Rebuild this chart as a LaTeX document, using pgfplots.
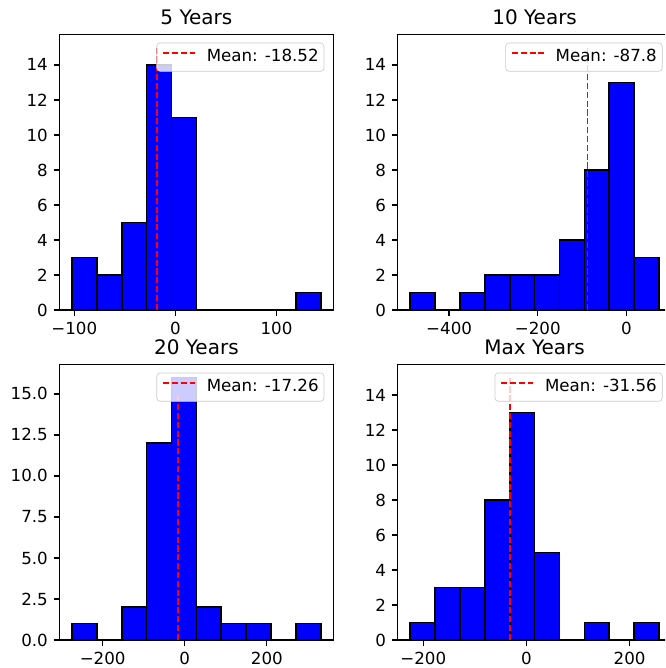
\documentclass[border=0pt]{standalone}
\usepackage{fontspec}
\setmainfont{DejaVu Sans}
\usepackage{pgfplots}
\pgfplotsset{compat=1.18}
\pgfplotsset{
  histax/.style={
    scale only axis,
    width=164.28pt, height=165.42pt,
    anchor=south west,
    axis line style={line width=0.8pt, black},
    tick align=outside,
    xtick pos=bottom, ytick pos=left,
    major tick length=3.5pt,
    every tick/.style={line width=0.8pt, black},
    tick label style={font=\fontsize{10}{12}\selectfont, black},
    title style={at={(0.5,1)}, anchor=base, yshift=-0.4pt, font=\fontsize{12}{14.4}\selectfont},
    ymin=0,
    legend style={at={(1,1)}, anchor=north east, xshift=-5.4pt, yshift=-5pt,
      draw=black!20, fill=white, fill opacity=0.8, text opacity=1, draw opacity=1,
      rounded corners=2pt, font=\fontsize{10}{12}\selectfont,
      inner xsep=3.2pt, inner ysep=3.5pt, column sep=6.5pt,
      nodes={inner sep=0pt, text height=7.6pt, text depth=2.4pt}},
    legend cell align=left,
  },
  bars/.style={ybar interval, fill=blue, draw=black, line width=1pt, forget plot},
  meanline/.style={color=red, line width=1.1pt, dash pattern=on 3.7pt off 1.6pt,
    legend image code/.code={\draw[red, line width=1.1pt, dash pattern=on 3.7pt off 1.6pt] (0pt,2.6pt) -- (19.2pt,2.6pt);}},
}
\begin{document}
\begin{tikzpicture}
\clip (0,0) rectangle (399pt,400.8pt);
% 5 Years
\begin{axis}[histax, at={(35.7pt,214.8pt)}, title={5 Years},
  xmin=-114.6, xmax=156.2, ymax=15.75,
  xtick={-100,0,100}, xticklabels={−100,0,100},
  ytick={0,2,4,6,8,10,12,14}, yticklabels={0,2,4,6,8,10,12,14}]
\addplot[bars] coordinates {(-102.3,3) (-77.7,2) (-53.1,5) (-28.5,14) (-3.8,11) (20.8,0) (45.4,0) (70.0,0) (94.6,0) (119.3,1) (143.9,0)};
\addplot[meanline] coordinates {(-18.52,0) (-18.52,15)};
\addlegendentry{Mean: -18.52}
\end{axis}
% 10 Years
\begin{axis}[histax, at={(238.62pt,214.8pt)}, title={10 Years},
  xmin=-516.1, xmax=102.0, ymax=15.75,
  xtick={-400,-200,0}, xticklabels={−400,−200,0},
  ytick={0,2,4,6,8,10,12,14}, yticklabels={0,2,4,6,8,10,12,14}]
\addplot[bars] coordinates {(-488.0,1) (-431.8,0) (-375.6,1) (-319.4,2) (-263.2,2) (-207.1,2) (-150.9,4) (-94.7,8) (-38.5,13) (17.7,3) (73.9,0)};
\addplot[meanline] coordinates {(-87.8,0) (-87.8,15)};
\addlegendentry{Mean: -87.8}
\end{axis}
% 20 Years
\begin{axis}[histax, at={(35.7pt,16.8pt)}, title={20 Years},
  xmin=-305.1, xmax=362.0, ymax=16.8,
  xtick={-200,0,200}, xticklabels={−200,0,200},
  ytick={0,2.5,5,7.5,10,12.5,15}, yticklabels={0.0,2.5,5.0,7.5,10.0,12.5,15.0}]
\addplot[bars] coordinates {(-274.8,1) (-214.2,0) (-153.5,2) (-92.9,12) (-32.2,16) (28.4,2) (89.1,1) (149.7,1) (210.4,0) (271.0,1) (331.7,0)};
\addplot[meanline] coordinates {(-17.26,0) (-17.26,15)};
\addlegendentry{Mean: -17.26}
\end{axis}
% Max Years
\begin{axis}[histax, at={(238.62pt,16.8pt)}, title={Max Years},
  xmin=-249.6, xmax=281.3, ymax=15.75,
  xtick={-200,0,200}, xticklabels={−200,0,200},
  ytick={0,2,4,6,8,10,12,14}, yticklabels={0,2,4,6,8,10,12,14}]
\addplot[bars] coordinates {(-225.5,1) (-177.2,3) (-129.0,3) (-80.7,8) (-32.4,13) (15.8,5) (64.1,0) (112.4,1) (160.7,0) (208.9,1) (257.2,0)};
\addplot[meanline] coordinates {(-31.56,0) (-31.56,15)};
\addlegendentry{Mean: -31.56}
\end{axis}
\end{tikzpicture}
\end{document}
